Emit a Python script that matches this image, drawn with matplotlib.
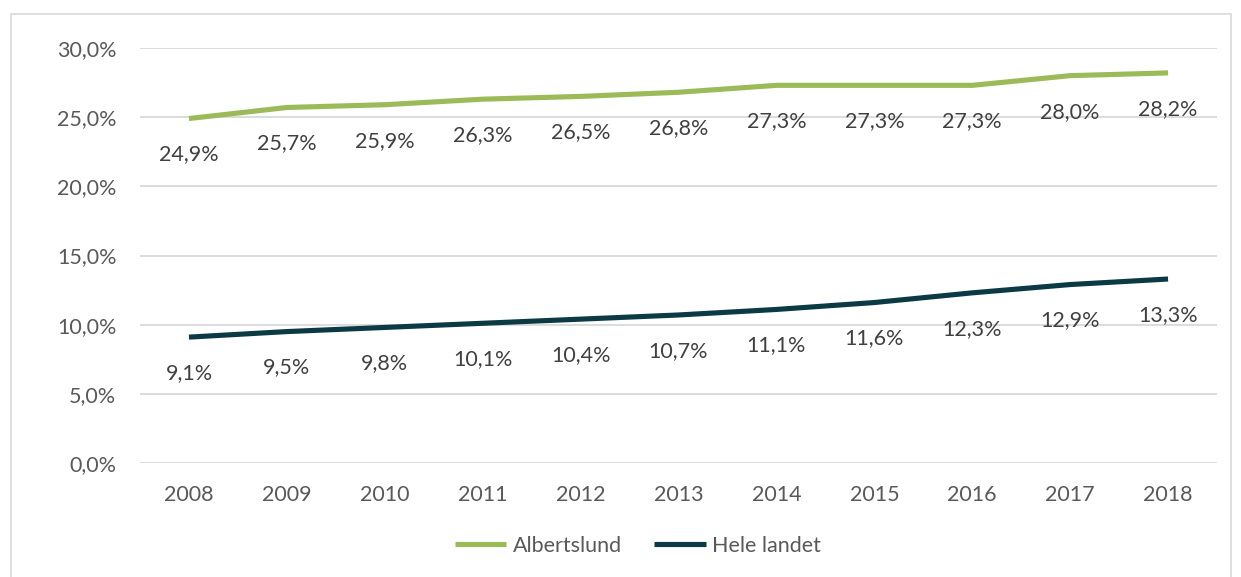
import matplotlib
matplotlib.use("Agg")
import matplotlib.pyplot as plt
from matplotlib.patches import Rectangle

years = ["2008", "2009", "2010", "2011", "2012", "2013", "2014", "2015", "2016", "2017", "2018"]
albertslund = [24.9, 25.7, 25.9, 26.3, 26.5, 26.8, 27.3, 27.3, 27.3, 28.0, 28.2]
hele_landet = [9.1, 9.5, 9.8, 10.1, 10.4, 10.7, 11.1, 11.6, 12.3, 12.9, 13.3]
yticks = [0, 5, 10, 15, 20, 25, 30]

plt.rcParams['font.family'] = ['Lato', 'DejaVu Sans']
W, H = 1241, 577
fig = plt.figure(figsize=(W / 100, H / 100), dpi=100)
ax = fig.add_axes([140 / W, 1 - 463 / H, (1217 - 140) / W, (463 - 48) / H])

text_col = "#404040"
green = "#9BBB59"
dark = "#0B3A45"
fs = 15.5

x = list(range(len(years)))
ax.plot(x, albertslund, color=green, lw=3.7, solid_capstyle='butt', label="Albertslund", zorder=3)
ax.plot(x, hele_landet, color=dark, lw=3.7, solid_capstyle='butt', label="Hele landet", zorder=3)

for xi, v in zip(x, albertslund):
    ax.annotate(f"{v:.1f}%".replace(".", ","), (xi, v), xytext=(0, -36), textcoords='offset pixels',
                ha='center', va='center', fontsize=fs, color=text_col)
for xi, v in zip(x, hele_landet):
    ax.annotate(f"{v:.1f}%".replace(".", ","), (xi, v), xytext=(0, -36), textcoords='offset pixels',
                ha='center', va='center', fontsize=fs, color=text_col)

ax.set_xlim(-0.5, len(years) - 0.5)
ax.set_ylim(0, 30)
ax.set_yticks(yticks)
ax.set_yticklabels([f"{t:.1f}%".replace(".", ",") for t in yticks])
ax.set_xticks(x)
ax.set_xticklabels(years)
ax.tick_params(axis='both', length=0, labelsize=fs, labelcolor="#595959")
ax.tick_params(axis='y', pad=17)
ax.tick_params(axis='x', pad=16)
ax.grid(axis='y', color="#D9D9D9", lw=1.3)
ax.set_axisbelow(True)
for s in ax.spines.values():
    s.set_visible(False)

leg = fig.legend(loc='center', bbox_to_anchor=(638 / W, 1 - 546 / H), ncol=2, frameon=False,
                 fontsize=fs, handlelength=2.4, columnspacing=1.5, handletextpad=0.3)
for t in leg.get_texts():
    t.set_color("#595959")

fig.patches.append(Rectangle((11 / W, -0.1), (1231 - 11) / W, 1.1 - 14 / H, transform=fig.transFigure,
                             fill=False, edgecolor="#D9D9D9", lw=1.2))

fig.savefig("out.png", dpi=100)
